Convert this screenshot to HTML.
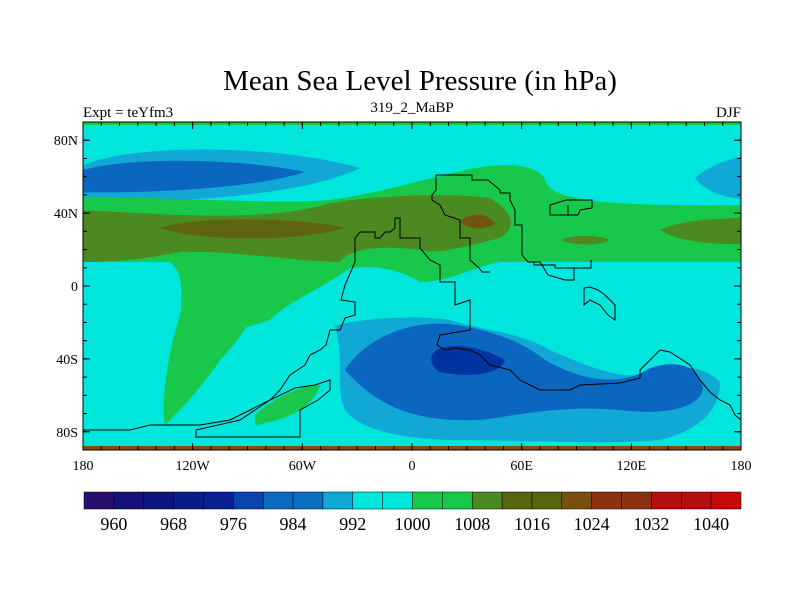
<!DOCTYPE html>
<html><head><meta charset="utf-8"><style>
body{margin:0;background:#fff;width:800px;height:600px;overflow:hidden;font-family:"Liberation Serif",serif}
svg text{font-family:"Liberation Serif",serif}
</style></head><body>
<svg width="800" height="600">
<text x="420" y="90" font-size="29" text-anchor="middle">Mean Sea Level Pressure (in hPa)</text>
<text x="83" y="117" font-size="15">Expt = teYfm3</text>
<text x="412" y="112" font-size="15" text-anchor="middle">319_2_MaBP</text>
<text x="741" y="117" font-size="15" text-anchor="end">DJF</text>
<defs><clipPath id="pc"><rect x="83" y="122" width="658" height="328"/></clipPath></defs>
<g clip-path="url(#pc)">
<rect x="83" y="122" width="658" height="328" fill="#00e6dc"/>
<path d="M70,175 C90,145 260,140 360,168 C300,198 150,205 70,200Z" fill="#11a8d6"/>
<path d="M70,175 C110,155 240,158 305,172 C250,190 130,194 70,192Z" fill="#0a66bf"/>
<path d="M695,178 C710,165 730,158 750,155 L750,200 C725,198 705,192 695,178Z" fill="#11a8d6"/>
<path d="M70,198 C150,195 260,205 330,200 C400,190 450,170 490,166 C520,163 540,168 545,180 C550,200 600,207 750,205 L750,262 C650,262 560,262 500,262 C470,268 450,282 420,282 C400,270 380,265 350,268 C320,290 290,300 270,320 C240,330 200,340 185,330 C175,300 190,280 170,262 L70,262Z" fill="#18c84a"/>
<path d="M185,300 C200,280 230,270 260,268 C270,300 240,340 220,360 C200,390 180,410 165,425 C160,400 170,340 185,300Z" fill="#18c84a"/>
<path d="M255,415 C270,400 300,385 320,385 C315,405 290,420 255,425Z" fill="#18c84a"/>
<path d="M70,210 C150,212 260,225 330,203 C380,195 450,193 490,198 C510,210 520,225 500,238 C470,245 440,255 420,250 C380,245 350,248 340,262 C300,262 230,250 180,252 C130,262 100,262 70,262Z" fill="#4a8a20"/>
<path d="M160,228 C200,215 300,218 345,228 C300,242 200,242 160,228Z" fill="#5f6410"/>
<path d="M460,222 C470,210 490,214 495,224 C485,230 470,230 460,222Z" fill="#6f5510"/>
<path d="M560,240 C575,234 600,235 610,240 C600,246 575,246 560,240Z" fill="#4a8a20"/>
<path d="M660,230 C680,220 720,218 750,218 L750,244 C720,245 680,243 660,230Z" fill="#4a8a20"/>
<path d="M335,326 C360,318 420,315 450,320 C480,330 520,332 550,350 C590,368 620,378 640,375 C670,365 700,362 720,382 C720,410 700,430 660,440 C600,445 520,440 450,440 C400,438 360,430 345,410 C335,390 345,360 335,326Z" fill="#11a8d6"/>
<path d="M345,370 C360,345 400,320 450,324 C490,330 520,340 545,360 C580,380 620,388 650,368 C680,358 700,368 703,388 C700,410 660,415 620,410 C560,405 520,415 480,420 C420,422 380,410 345,370Z" fill="#0a66bf"/>
<path d="M432,355 C440,340 480,345 505,360 C500,375 470,378 440,372 C432,368 430,360 432,355Z" fill="#0033a0"/>
<rect x="83" y="446" width="658" height="4" fill="#8a4a10"/>
<rect x="83" y="122" width="658" height="3" fill="#18c84a"/>
<g fill="none" stroke="#000" stroke-width="1">
<path d="M436,175 L472,175 L472,180 L488,180 L500,190 L500,193 L510,193 L510,200 L515,210 L515,225 L522,225 L522,255 L528,262 L534,262 L534,265 L555,265 L555,268 L591,268 L591,260 L591,268 L574,268 L574,280 L565,280 L548,275 L540,262 L528,262"/>
<path d="M436,175 L436,190 L432,195 L432,200 L440,205 L445,215 L460,220 L460,238 L470,238 L470,260 L479,268 L482,272 L490,272"/>
<path d="M355,238 L355,262 L345,285 L341,300 L355,302 L355,315 L345,318 L340,330 L330,330 L326,345 L320,350 L310,355 L305,365 L290,375 L280,390 L270,400 L250,410 L230,420 L200,425 L150,425 L130,430 L83,430"/>
<path d="M355,238 L360,232 L375,232 L375,238 L380,238 L385,232 L390,232 L395,228 L395,218 L400,218 L400,238 L410,238 L420,238 L420,248 L430,260 L440,265 L440,282 L455,282 L455,305 L470,300 L470,330 L440,335 L437,345 L445,350 L455,348 L470,350 L480,355 L490,365 L510,370 L520,380 L540,390 L570,390 L580,385 L620,383 L640,378 L640,370 L650,360 L660,350 L670,352 L690,365 L700,380 L710,392 L720,400 L730,405 L735,415 L741,420"/>
<path d="M196,437 L300,437 L300,410 L318,400 L330,390 L330,380 L315,385 L295,388 L270,400 L240,420 L196,430Z"/>
<path d="M568,205 L568,215 L578,215 L580,210 L592,208 L592,200 L566,200 L550,205 L550,215 L568,215"/>
<path d="M584,288 L584,305 L590,300 L600,305 L608,315 L615,320 L615,305 L605,295 L598,290 L590,287Z"/>
</g>
</g>
<rect x="83" y="122" width="658" height="328" fill="none" stroke="#000" stroke-width="1"/>
<g id="axes" font-size="14"></g>
<g id="cbar"></g>
</svg>
<script>
const xTickLabels=["180","120W","60W","0","60E","120E","180"];
const xTickLons=[-180,-120,-60,0,60,120,180];
const yTickLabels=["80N","40N","0","40S","80S"];
const yTickLats=[80,40,0,-40,-80];
const levels=[960,964,968,972,976,980,984,988,992,996,1000,1004,1008,1012,1016,1020,1024,1028,1032,1036,1040];
const levelColors=["#2a0f6e","#14127a","#10147e","#0a1d8a","#0a1f92","#0a44b0","#0a6ac0","#0a6ec2","#11a8d6","#00e6dc","#00e6dc","#18c84a","#18c84a","#4a8a20","#55660e","#55660e","#7a5010","#8c3210","#8c3210","#b41010","#b41010","#c80a0a"];
const NS="http://www.w3.org/2000/svg";
const X=l=>83+(l+180)/360*658, Y=l=>122+(90-l)/180*328;
const ax=document.getElementById('axes');
function mk(t,a,p){const e=document.createElementNS(NS,t);for(const k in a)e.setAttribute(k,a[k]);p.appendChild(e);return e;}
for(let l=-180;l<=180;l+=10){
 mk('line',{x1:X(l),x2:X(l),y1:122,y2:126,stroke:'#000'},ax);
 mk('line',{x1:X(l),x2:X(l),y1:450,y2:446,stroke:'#000'},ax);
}
for(let l=-90;l<=90;l+=10){
 mk('line',{x1:83,x2:87,y1:Y(l),y2:Y(l),stroke:'#000'},ax);
 mk('line',{x1:741,x2:737,y1:Y(l),y2:Y(l),stroke:'#000'},ax);
}
xTickLons.forEach((l,i)=>{
 const t=mk('text',{x:X(l),y:470,'text-anchor':'middle'},ax);t.textContent=xTickLabels[i];
 
 
 mk('line',{x1:X(l),x2:X(l),y1:122,y2:129,stroke:'#000'},ax);
 mk('line',{x1:X(l),x2:X(l),y1:450,y2:443,stroke:'#000'},ax);
});
yTickLats.forEach((l,i)=>{
 const t=mk('text',{x:78,y:Y(l)+5,'text-anchor':'end'},ax);t.textContent=yTickLabels[i];
 
 
 mk('line',{x1:83,x2:90,y1:Y(l),y2:Y(l),stroke:'#000'},ax);
 mk('line',{x1:741,x2:734,y1:Y(l),y2:Y(l),stroke:'#000'},ax);
});
const cb=document.getElementById('cbar');
const bx0=84,bx1=741,bw=(bx1-bx0)/levelColors.length;
levelColors.forEach((c,i)=>{
 const r=mk('rect',{x:bx0+i*bw,y:492,width:bw,height:17,fill:c,stroke:'#000','stroke-width':0.5},cb);
 
 
});
levels.forEach((v,i)=>{ if(i%2)return;
 const t=mk('text',{x:bx0+(i+1)*bw,y:530,'text-anchor':'middle','font-size':18},cb);t.textContent=v;
 
 
});
</script>
</body></html>
